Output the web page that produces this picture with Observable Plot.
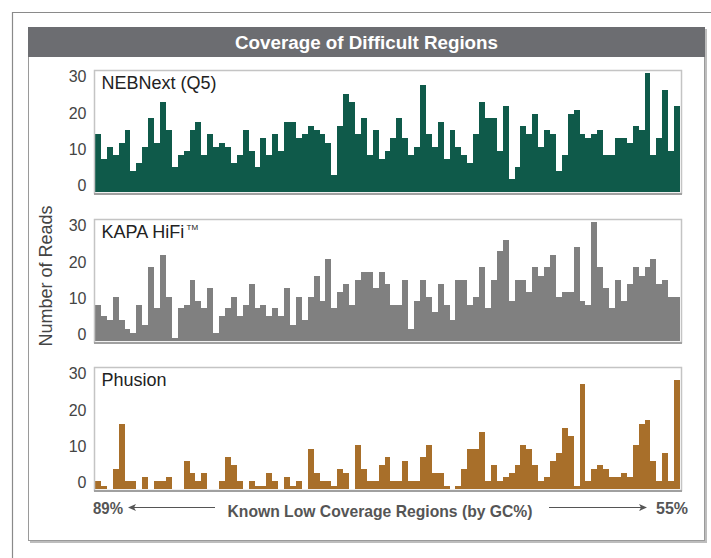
<!DOCTYPE html>
<html>
<head>
<meta charset="utf-8">
<script src="https://cdn.jsdelivr.net/npm/d3@7"></script>
<script src="https://cdn.jsdelivr.net/npm/@observablehq/plot@0.6"></script>
<style>
  html, body { margin: 0; padding: 0; background: #fff; }
  #root { position: relative; width: 711px; height: 558px; overflow: hidden; font-family: "Liberation Sans", Arial, sans-serif; }
  .abs { position: absolute; left: 0; }
</style>
</head>
<body>
<div id="root"></div>
<script>
// ---- data (in axis units) ----
const title = "Coverage of Difficult Regions";
const yTitle = "Number of Reads";
const xTitle = "Known Low Coverage Regions (by GC%)";
const xLeftLabel = "89%";
const xRightLabel = "55%";
const yTicks = [0, 10, 20, 30];
const panelNames = ["NEBNext (Q5)", "KAPA HiFi", "Phusion"];

const nebnext = [14.2,7.2,10.6,8.3,11.7,15.3,3.9,6.1,10.6,18.6,11.7,23.1,15.3,5.0,8.3,9.4,15.3,17.5,8.3,14.2,
  10.6,11.7,10.6,6.1,8.3,15.3,9.4,5.0,13.0,8.3,14.2,9.4,17.5,17.5,
  13.0,14.2,16.4,15.3,14.2,11.7,2.9,16.4,25.3,23.1,14.2,18.6,8.3,15.3,7.2,9.4,13.0,18.6,13.0,8.3,10.6,27.8,
  14.2,10.6,17.5,7.2,15.3,10.6,8.3,6.1,14.2,23.1,
  18.6,18.6,9.4,21.9,1.7,5.0,16.4,14.2,19.7,10.6,15.3,14.2,3.9,8.3,19.7,20.8,14.2,13.0,14.2,15.3,8.3,8.3,
  13.0,13.0,11.7,16.4,15.3,31.1,8.3,13.0,26.4,9.4,21.9];

const kapa = [8.2,4.9,3.8,10.4,3.8,1.5,0.4,8.2,2.6,18.5,7.1,21.8,10.4,-1.0,7.1,8.2,15.1,9.3,7.1,12.9,
  0.4,4.9,7.1,10.4,4.9,8.2,14.0,7.1,8.2,4.9,7.1,4.9,12.9,
  2.6,10.4,3.8,10.4,16.2,9.3,20.7,7.1,11.6,14.0,8.2,15.1,17.3,17.3,12.9,17.3,14.0,8.2,8.2,15.1,1.5,9.3,
  15.1,10.4,6.0,14.0,8.2,3.8,15.1,15.1,8.2,10.4,18.5,
  7.1,15.1,22.9,26.2,9.3,15.1,15.1,11.6,18.5,16.2,18.5,21.8,10.4,11.6,11.6,24.0,9.3,8.2,31.0,18.5,12.9,
  7.1,15.1,9.3,14.0,18.5,16.2,18.5,20.7,14.0,15.1,10.4,10.4];

const phusion = [0.4,-1.0,null,3.7,16.1,0.4,0.4,null,1.5,null,0.4,0.4,1.5,null,null,5.9,2.6,0.4,2.6,null,
  null,0.4,7.0,4.8,0.4,null,0.4,-1.0,-1.0,2.6,0.4,null,1.5,
  -1.0,0.4,null,9.2,2.6,0.4,0.4,-1.0,3.7,2.6,null,10.3,3.7,0.4,0.4,4.8,7.0,0.4,0.4,5.9,0.4,0.4,7.0,10.3,
  2.6,2.6,-1.0,null,-1.0,3.7,9.2,9.2,13.9,
  0.4,4.8,0.4,1.5,2.6,4.8,10.3,9.2,4.8,0.4,1.5,5.9,8.1,15.0,12.8,-1.0,27.3,0.4,3.7,4.8,3.7,1.5,1.5,2.6,
  1.5,10.3,16.1,17.2,5.9,0.4,8.1,0.4,28.4];

const colors = ["#0f5a4a", "#808080", "#a86f2a"];
const yMin = -1.9, yMax = 31.6;

const root = document.getElementById("root");

// ---- page decoration (frames, header) ----
const NS = "http://www.w3.org/2000/svg";
const deco = document.createElementNS(NS, "svg");
deco.setAttribute("width", 711); deco.setAttribute("height", 558);
deco.setAttribute("class", "abs"); deco.style.top = "0px";
deco.innerHTML = `
  <path d="M12.5,558 V12.5 H711" fill="none" stroke="#8a8a8a" stroke-width="1.2"/>
  <rect x="30" y="29" width="677" height="514" fill="#bdbdbd"/>
  <rect x="28.5" y="27.5" width="676" height="513" fill="#fff" stroke="#9a9a9a" stroke-width="1"/>
  <rect x="28" y="27" width="677" height="30" fill="#6c6d71"/>
  <text x="366.5" y="42.5" fill="#fff" font-size="18" font-weight="bold" text-anchor="middle" dominant-baseline="central" textLength="263" lengthAdjust="spacingAndGlyphs">${title}</text>
  <text transform="translate(46,276) rotate(-90)" fill="#444" font-size="18" text-anchor="middle" dominant-baseline="central">${yTitle}</text>
  <text x="380" y="511" fill="#555" font-size="17" font-weight="bold" text-anchor="middle" dominant-baseline="central" textLength="305" lengthAdjust="spacingAndGlyphs">${xTitle}</text>
  <text x="93" y="508.5" fill="#555" font-size="17" font-weight="bold" dominant-baseline="central" textLength="30" lengthAdjust="spacingAndGlyphs">${xLeftLabel}</text>
  <text x="688" y="508.5" fill="#555" font-size="17" font-weight="bold" text-anchor="end" dominant-baseline="central" textLength="32" lengthAdjust="spacingAndGlyphs">${xRightLabel}</text>
  <line x1="130" y1="507.5" x2="215" y2="507.5" stroke="#555" stroke-width="1.2"/>
  <path d="M128,507.5 L136,504 L134,507.5 L136,511 Z" fill="#555"/>
  <line x1="549" y1="507.5" x2="645" y2="507.5" stroke="#555" stroke-width="1.2"/>
  <path d="M647,507.5 L639,504 L641,507.5 L639,511 Z" fill="#555"/>
`;
root.appendChild(deco);

// ---- panels ----
function panel(values, color, name, top, tm) {
  const data = values.map((v, i) => ({i: i + 1, v}));
  const marks = [
    Plot.barY(data, {x: "i", y1: yMin, y2: "v", fill: color, inset: 0, shapeRendering: "crispEdges"}),
    Plot.frame({stroke: "#c4c4c4", strokeWidth: 1.5, inset: -1}),
    Plot.ruleY([yMin], {stroke: "#a0a0a0", strokeWidth: 2, dy: 1.5, insetLeft: -1, insetRight: -2}),
    Plot.axisY(yTicks, {tickSize: 0, tickPadding: 9, fontSize: 16, fill: "#444", label: null}),
    Plot.text([name], {frameAnchor: "top-left", dx: 6, dy: 5, fontSize: 18, fill: "#222"})
  ];
  if (tm) marks.push(Plot.text([tm], {frameAnchor: "top-left", dx: 91, dy: 4, fontSize: 8, fill: "#222"}));
  const svg = Plot.plot({
    width: 711, height: 140,
    marginLeft: 95, marginRight: 31, marginTop: 10, marginBottom: 9,
    style: {background: "transparent", fontFamily: "'Liberation Sans', Arial, sans-serif"},
    x: {type: "band", domain: data.map(d => d.i), padding: 0, axis: null},
    y: {domain: [yMin, yMax], axis: null},
    marks
  });
  svg.setAttribute("class", "abs");
  svg.style.top = top + "px";
  svg.style.overflow = "visible";
  root.appendChild(svg);
}

panel(nebnext, colors[0], panelNames[0], 61, null);
panel(kapa, colors[1], panelNames[1], 209.5, "TM");
panel(phusion, colors[2], panelNames[2], 358, null);
</script>
</body>
</html>
